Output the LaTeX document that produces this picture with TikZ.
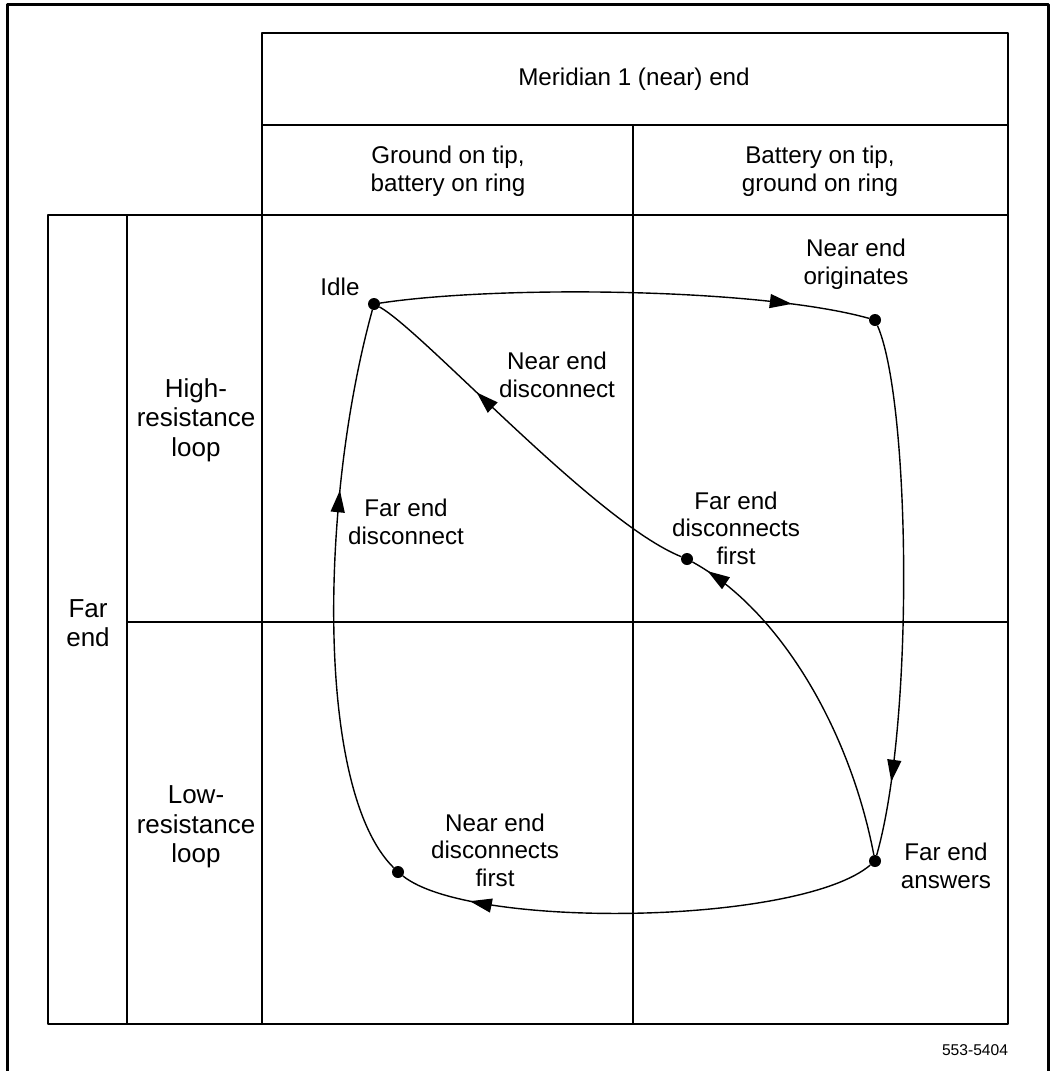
\documentclass[tikz,border=0pt]{standalone}
\usepackage{fontspec}
\setmainfont{Liberation Sans}
\usetikzlibrary{arrows.meta,decorations.markings}

\tikzset{
  dot/.style={circle, fill=black, inner sep=0pt, minimum size=12pt},
  lbl/.style={align=center, font=\fontsize{24.2}{27.5}\selectfont},
  side/.style={align=center, font=\fontsize{26}{29.5}\selectfont},
  rule/.style={line width=1.3pt},
  flow/.style={line width=1.4pt, postaction={decorate},
    decoration={markings, mark=at position #1 with {\arrow{Triangle[length=22pt,width=14pt]}}}},
}

\begin{document}
\begin{tikzpicture}[x=1pt, y=-1pt, line join=round]
      \useasboundingbox (0,0) rectangle (1052,1071);

      % frame
      \draw[line width=3pt] (7,1075) -- (7,4) -- (1048,4) -- (1048,1075);

      % table
      \draw[rule] (262,33) rectangle (1008,1024);
      \draw[rule] (48,215) rectangle (262,1024);
      \draw[rule] (262,125) -- (1008,125);
      \draw[rule] (262,215) -- (1008,215);
      \draw[rule] (633,125) -- (633,1024);
      \draw[rule] (127,215) -- (127,1024);
      \draw[rule] (127,622) -- (1008,622);

      \node[lbl] (near) at (634,79) {Meridian 1 (near) end};
      \node[lbl] (gtip) at (448,171) {Ground on tip,\\battery on ring};
      \node[lbl] (btip) at (820,171) {Battery on tip,\\ground on ring};
      \node[side] (far) at (88,623) {Far\\end};
      \node[side] (high) at (196,420) {High-\\resistance\\loop};
      \node[side] (low) at (196,827) {Low-\\resistance\\loop};

      % states
      \node[dot] (idle) at (374,304) {};
      \node[dot] (orig) at (875,320) {};
      \node[dot] (fdf) at (687,559) {};
      \node[dot] (ans) at (875,861) {};
      \node[dot] (ndf) at (398,872) {};

      \node[lbl] (idle-l) at (340,287) {Idle};
      \node[lbl] (orig-l) at (856,264) {Near end\\originates};
      \node[lbl] (ndc-l) at (557,375) {Near end\\disconnect};
      \node[lbl] (fdc-l) at (406,522) {Far end\\disconnect};
      \node[lbl] (fdf-l) at (736,528) {Far end\\disconnects\\first};
      \node[lbl] (ndf-l) at (495,850) {Near end\\disconnects\\first};
      \node[lbl] (ans-l) at (946,866) {Far end\\answers};

      % transitions
      \draw[flow=0.84] (idle) .. controls (500,285) and (760,288) .. (orig);
      \draw[flow=0.86] (orig) .. controls (910,400) and (915,720) .. (ans);
      \draw[flow=0.85] (ans) .. controls (800,925) and (470,930) .. (ndf);
      \draw[flow=0.68] (ndf) .. controls (315,790) and (320,500) .. (idle);
      \draw[flow=0.95] (ans) .. controls (850,730) and (780,610) .. (fdf);
      \draw[flow=0.67] (fdf) .. controls (595,522) and (422,330) .. (idle);

      \node[font=\fontsize{15.6}{18}\selectfont] (code) at (975,1050) {553-5404};
    \end{tikzpicture}
\end{document}
